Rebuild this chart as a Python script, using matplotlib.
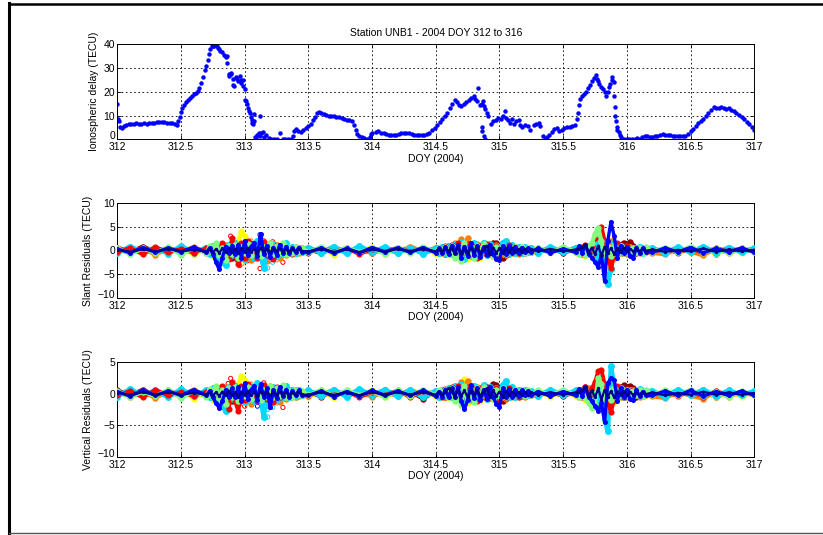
import numpy as np
import matplotlib
matplotlib.use("Agg")
from matplotlib import pyplot as plt
from matplotlib.lines import Line2D

plt.rcParams['font.family'] = ['Liberation Sans', 'DejaVu Sans']
plt.rcParams['font.size'] = 7.5

# ionospheric delay (TECU) vs day of year
doy_tec = [312.0, 312.005, 312.015, 312.025, 312.035, 312.05, 312.07, 312.09, 312.11, 312.13, 312.15, 312.17,
           312.19, 312.21, 312.23, 312.25, 312.27, 312.29, 312.31, 312.33, 312.35, 312.37, 312.39, 312.41,
           312.43, 312.45, 312.465, 312.48, 312.49, 312.5, 312.51, 312.525, 312.54, 312.555, 312.57, 312.585,
           312.6, 312.615, 312.63, 312.645, 312.66, 312.675, 312.69, 312.7, 312.71, 312.72, 312.73, 312.74,
           312.75, 312.76, 312.77, 312.78, 312.79, 312.8, 312.81, 312.82, 312.835, 312.85, 312.86, 312.865,
           312.875, 312.88, 312.89, 312.895, 312.905, 312.91, 312.92, 312.93, 312.94, 312.95, 312.96, 312.97,
           312.975, 312.985, 312.99, 313.0, 313.0, 313.01, 313.02, 313.03, 313.035, 313.045, 313.05, 313.055,
           313.06, 313.065, 313.07, 313.075, 313.12, 313.08, 313.09, 313.1, 313.11, 313.12, 313.13, 313.14,
           313.15, 313.17, 313.19, 313.21, 313.23, 313.25, 313.28, 313.3, 313.32, 313.34, 313.36, 313.38,
           313.39, 313.405, 313.42, 313.44, 313.46, 313.48, 313.5, 313.52, 313.54, 313.555, 313.57, 313.585,
           313.6, 313.62, 313.64, 313.66, 313.68, 313.7, 313.72, 313.74, 313.76, 313.78, 313.8, 313.82,
           313.84, 313.855, 313.87, 313.885, 313.9, 313.92, 313.94, 313.96, 313.98, 313.99, 314.0, 314.03,
           314.05, 314.07, 314.09, 314.11, 314.13, 314.15, 314.17, 314.19, 314.21, 314.23, 314.25, 314.27,
           314.29, 314.31, 314.33, 314.35, 314.37, 314.39, 314.41, 314.43, 314.45, 314.47, 314.49, 314.51,
           314.53, 314.55, 314.57, 314.59, 314.61, 314.63, 314.65, 314.665, 314.68, 314.7, 314.72, 314.74,
           314.76, 314.78, 314.8, 314.81, 314.82, 314.835, 314.85, 314.86, 314.87, 314.88, 314.89, 314.9,
           314.91, 314.86, 314.865, 314.875, 314.885, 314.93, 314.95, 314.97, 314.99, 315.01, 315.03, 315.045,
           315.055, 315.07, 315.085, 315.1, 315.115, 315.13, 315.15, 315.165, 315.18, 315.2, 315.22, 315.24,
           315.27, 315.29, 315.31, 315.32, 315.345, 315.36, 315.375, 315.39, 315.41, 315.43, 315.45, 315.47,
           315.49, 315.51, 315.53, 315.55, 315.57, 315.59, 315.605, 315.615, 315.625, 315.635, 315.65, 315.665,
           315.68, 315.695, 315.71, 315.725, 315.74, 315.755, 315.765, 315.775, 315.785, 315.8, 315.815, 315.83,
           315.84, 315.85, 315.86, 315.87, 315.88, 315.885, 315.895, 315.9, 315.905, 315.91, 315.915, 315.92,
           315.925, 315.935, 315.945, 315.955, 315.965, 315.98, 316.0, 316.02, 316.04, 316.06, 316.08, 316.1,
           316.12, 316.14, 316.16, 316.18, 316.2, 316.22, 316.24, 316.26, 316.28, 316.3, 316.32, 316.34,
           316.36, 316.38, 316.4, 316.42, 316.44, 316.46, 316.48, 316.5, 316.52, 316.54, 316.56, 316.58,
           316.6, 316.62, 316.64, 316.66, 316.68, 316.7, 316.72, 316.74, 316.76, 316.78, 316.8, 316.82,
           316.84, 316.86, 316.88, 316.9, 316.92, 316.94, 316.96, 316.98, 317.0]
tec = [15.0, 8.4, 7.5, 5.0, 4.6, 5.5, 6.0, 6.3, 6.5, 6.4, 6.7, 6.6,
       6.5, 6.7, 6.6, 6.9, 6.8, 7.0, 7.2, 7.3, 7.1, 7.2, 7.0, 6.9,
       6.8, 6.5, 6.0, 7.5, 9.5, 11.5, 13.0, 14.5, 15.6, 16.5, 17.3, 18.2,
       19.0, 19.6, 20.3, 21.5, 23.5, 26.0, 29.0, 31.0, 33.5, 36.0, 38.0, 39.0,
       39.3, 39.0, 39.6, 39.2, 38.3, 38.0, 37.2, 36.5, 35.5, 34.5, 35.0, 32.2,
       27.5, 26.5, 28.0, 27.3, 25.5, 23.0, 22.3, 26.0, 25.3, 24.5, 26.5, 25.0,
       23.5, 24.8, 22.5, 21.2, 16.5, 16.0, 15.0, 13.2, 12.0, 11.0, 9.5, 8.0,
       7.0, 6.5, 7.5, 10.5, 9.8, 1.0, 0.5, 2.0, 2.8, 1.5, 2.5, 3.0,
       1.0, 2.0, 0.5, 0.2, 0.0, 0.3, 2.8, 0.0, 0.0, 0.1, 0.0, 1.5,
       3.5, 4.2, 3.5, 3.0, 4.0, 4.8, 5.5, 6.5, 8.0, 9.5, 11.0, 11.5,
       11.0, 10.6, 10.3, 10.0, 9.6, 9.8, 9.3, 9.2, 8.9, 8.6, 8.3, 8.0,
       7.5, 6.0, 4.0, 2.3, 1.3, 1.0, 0.5, 0.3, 1.0, 2.2, 2.8, 3.0,
       3.3, 2.8, 2.5, 2.3, 2.0, 1.8, 1.8, 2.0, 2.3, 2.5, 2.7, 2.8,
       2.5, 2.2, 2.0, 1.9, 1.8, 1.8, 2.0, 2.3, 2.8, 3.8, 4.8, 6.0,
       7.2, 8.5, 9.6, 11.0, 13.0, 15.0, 16.5, 15.5, 14.6, 14.0, 15.0, 15.5,
       16.5, 17.3, 18.0, 17.0, 16.2, 21.4, 14.5, 15.0, 16.0, 14.0, 12.8, 11.0,
       10.0, 5.3, 3.5, 1.5, 0.3, 6.5, 7.5, 8.3, 9.0, 8.5, 10.0, 11.8,
       9.0, 8.0, 7.0, 8.5, 6.5, 7.5, 8.3, 6.0, 5.0, 6.0, 5.5, 4.0,
       6.0, 6.5, 7.0, 5.5, 1.5, 0.2, 0.8, 1.8, 3.0, 4.2, 4.8, 3.5,
       4.0, 4.6, 5.0, 5.2, 5.6, 6.0, 8.5, 11.0, 14.5, 17.0, 18.0, 19.2,
       20.0, 21.5, 23.0, 24.5, 25.8, 27.0, 25.5, 24.3, 23.3, 22.0, 21.2, 19.8,
       18.0, 20.0, 22.0, 23.3, 25.0, 26.0, 24.0, 18.0, 13.5, 10.0, 7.5, 5.0,
       4.0, 3.0, 2.0, 1.0, 0.0, 0.0, 0.0, 0.2, 0.1, 0.3, 0.5, 0.3,
       1.0, 1.5, 1.6, 1.0, 0.8, 1.2, 1.6, 2.0, 2.2, 2.0, 1.8, 1.7,
       1.5, 1.4, 1.3, 1.3, 1.2, 1.5, 2.3, 3.3, 4.3, 5.5, 6.8, 7.8,
       8.7, 10.0, 11.2, 12.5, 13.7, 13.2, 13.0, 13.4, 13.1, 12.9, 13.0, 12.4,
       11.8, 11.0, 10.2, 9.5, 8.5, 7.4, 6.3, 5.2, 4.0]

# residual epochs: coarse in quiet hours, fine during the disturbed periods
doy_res = np.round(np.concatenate([
    np.linspace(312.0, 312.7, 8),
    np.linspace(312.725, 313.45, 30),
    np.linspace(313.5, 314.5, 11),
    np.linspace(314.525, 315.25, 30),
    np.linspace(315.3, 315.6, 4),
    np.linspace(315.625, 316.15, 22),
    np.linspace(316.2, 317.0, 9),
]), 3)

# drawing order, bottom to top
res_colors = [(0.55, 0, 0), (1, 1, 0), (1, 0.5, 0), (0, 0.85, 1),
              (1, 0, 0), (0.5, 1, 0.5), (0, 0, 1), (0, 0, 0.55)]
res_widths = [3.0, 3.0, 3.2, 3.4, 2.8, 3.0, 2.4, 1.6]
res_msizes = [4.6, 4.4, 4.6, 5.0, 4.4, 4.6, 3.6, 2.4]

# slant residuals (TECU), one row per colour group
slant_darkred = [0.6, -0.4, 0.8, -0.3, 0.5, -0.6, 0.4, -0.3,
                 0.4, -0.8, 0.6, 1.0, -1.2, 0.8, -0.5, -1.5, 1.0, -2.0, 0.5, -1.2, 0.8, 1.3, -0.6,
                 0.9, -1.0, 0.6, -0.8, 1.0, 0.5, -0.7, 0.8, -0.4, 0.6, -0.5, 0.3, -0.6, 0.4, -0.3,
                 0.3, -0.6, 0.5, -0.4, 0.3, -0.5, 0.6, -0.3, 0.4, -0.6, 0.5,
                 -0.4, 0.5, -0.7, 0.6, -0.5, 0.9, -0.8, 0.5, -1.0, 0.6, 1.0, -0.8, 0.5, -0.6, 0.8,
                 -0.7, 1.2, 1.6, 1.5, 0.8, -1.5, 0.5, -0.6, 0.9, -0.5, 0.6, -0.4, 0.5, -0.3, 0.4,
                 -0.3, 0.4, -0.5, 0.3,
                 -0.5, 0.6, -0.8, 0.5, -0.6, 1.2, -1.5, 2.0, -3.0, -2.0, 1.5, -1.0, 0.8, 1.2, 1.6,
                 1.4, 1.8, 1.0, -0.6, 0.5, -0.3, 0.4,
                 0.3, -0.5, 0.4, -0.3, 0.6, -0.7, 0.4, -0.3, 0.2]
slant_red = [-0.3, 0.5, -0.8, 0.7, -0.4, 0.3, -0.5, 0.4,
             0.8, -0.5, 1.2, -0.8, 1.5, 0.3, -1.8, 2.5, -1.0, -2.8, 1.5, -1.5, 2.0, -0.8, 1.0,
             -1.5, 0.8, 1.7, -1.0, 0.6, -1.8, 1.2, -0.6, 1.0, -0.5, 0.4, -0.8, 0.6, -0.3, 0.4,
             -0.5, 0.6, -0.3, 0.5, -0.8, 0.3, -0.4, 0.6, -0.3, 0.5, -0.4,
             0.5, -0.6, 0.9, -0.5, 1.2, -0.8, 1.5, -1.0, 0.7, 1.4, -1.2, 0.8, -1.5, 1.0, -0.6,
             1.3, -0.8, 0.5, 1.0, -1.2, 0.6, -0.9, 1.1, -0.5, 0.8, -0.6, 0.4, -0.5, 0.3, -0.4,
             0.4, -0.3, 0.5, -0.4,
             0.6, -0.8, 1.2, -0.5, 1.0, 2.5, 4.5, 5.0, 2.0, -1.5, -3.8, -1.0, 1.5, 0.8, -0.6,
             0.9, -0.5, 0.6, -0.4, 0.5, -0.3, 0.4,
             -0.4, 0.3, -0.5, 0.4, -0.6, 0.5, -0.3, 0.4, -0.2]
slant_orange = [0.4, -0.6, 0.5, -0.9, 0.6, -0.4, 0.7, -0.5,
                -0.6, 0.9, -1.0, 0.7, -0.8, 1.2, -0.5, 0.8, 1.5, -1.2, 0.9, -0.8, 1.6, -2.0, 0.7,
                1.8, -1.5, 1.0, -2.3, 1.5, -0.9, 1.0, -1.6, 0.8, -1.0, 0.6, -0.4, 0.7, -0.5, 0.3,
                0.5, -0.4, 0.7, -0.5, 0.4, -0.6, 0.3, -0.5, 0.8, -0.3, 0.5,
                -0.5, 0.4, -0.8, 1.0, -0.6, 1.5, -0.8, 2.3, -1.2, 2.5, 0.8, -1.0, 1.3, -0.7, 1.0,
                -0.9, 0.6, -0.8, 1.1, -0.5, 0.9, -1.0, 0.7, -0.6, 0.5, -0.7, 0.4, -0.6, 0.5, -0.3,
                -0.5, 0.6, -0.4, 0.5,
                -0.6, 0.8, -0.5, 1.0, -1.2, 0.7, -0.8, 1.5, -2.5, 1.0, 2.0, -1.5, 0.8, -0.6, 0.5,
                -0.8, 0.6, -0.4, 0.5, -0.6, 0.4, -0.3,
                -0.5, -0.8, 0.4, -0.3, -1.0, 0.5, -0.6, 0.4, -0.3]
slant_yellow = [-0.5, 0.3, -0.7, 0.4, -0.6, 0.5, -0.9, 0.3,
                0.6, -1.2, 0.8, -1.5, 1.0, -0.8, 1.3, -0.6, 1.0, 2.0, 4.0, 3.0, -1.0, 0.8, -1.3,
                1.0, -0.7, 1.2, -0.9, 0.6, 1.3, -1.0, 0.8, -0.5, 1.1, -0.6, 0.4, -0.7, 0.5, -0.4,
                -0.6, 0.4, -0.9, 0.6, -0.5, 0.8, -0.7, 0.4, -0.6, 0.5, -0.8,
                0.4, -0.6, 0.5, -0.9, 0.7, -1.2, 1.0, -1.6, 0.8, -1.8, 1.4, -0.8, 1.2, -1.5, 0.6,
                -1.0, 0.9, -1.3, 0.5, 0.8, -0.7, 1.0, -0.5, 0.6, -0.8, 0.4, -0.5, 0.6, -0.3, 0.5,
                0.3, -0.6, 0.4, -0.5,
                0.5, -0.8, -1.2, 0.6, -1.0, 0.8, -1.5, 1.5, -5.0, -3.0, 2.0, -1.8, 1.0, -0.8, 0.6,
                -0.5, 0.7, -0.4, 0.5, -0.3, 0.6, -0.4,
                0.5, -0.4, 0.6, -0.5, 0.4, -0.8, 0.5, -0.6, 0.4]
slant_green = [0.5, -0.8, 0.4, -0.5, 0.7, -0.9, 0.5, -0.6,
               0.9, -0.6, 1.5, -1.0, 0.6, -2.0, 1.0, -0.7, 1.2, -1.5, 0.8, -0.5, 1.4, -1.0, 0.6,
               1.0, -1.2, 0.8, -0.6, 1.5, -0.8, 1.0, -0.5, 1.6, -0.7, 0.5, -0.6, 0.8, -0.4, 0.5,
               -0.4, 0.7, -0.5, 0.6, -0.4, 0.5, -0.7, 0.6, -0.5, 0.7, -0.4,
               0.6, -0.5, 0.8, -0.7, 1.0, -1.5, 0.9, -2.2, 1.5, -1.2, 0.8, -1.6, 1.0, -0.8, 1.3,
               -0.6, 0.9, -1.1, 0.7, -0.5, 1.0, -0.8, 0.5, -0.6, 0.7, -0.4, 0.8, -0.5, 0.6, -0.4,
               0.6, -0.4, 0.7, -0.3,
               -0.7, 0.5, -0.9, 0.8, 1.5, 3.5, 4.8, 2.0, -1.0, 0.8, -1.2, 1.0, -0.7, 0.9, -0.5,
               0.6, -0.8, 0.5, -0.4, 0.6, -0.5, 0.7,
               -0.3, 0.6, -0.4, 0.8, -0.5, 0.4, -0.6, 0.5, -0.3]
slant_cyan = [-0.6, 0.8, -0.4, 0.6, -0.7, 0.9, -0.5, 0.6,
              -0.8, 1.0, -1.5, 0.8, -2.5, -3.0, 1.2, -1.0, 1.5, -0.8, 1.0, -1.8, 0.7, 1.2, -1.5,
              2.0, -1.0, -3.7, 1.0, -0.9, 1.3, -1.2, 0.7, -0.8, 1.5, -0.6, 0.8, -0.5, 0.6, -0.4,
              0.6, -0.5, 0.8, -0.6, 0.9, -0.4, 0.7, -0.5, 0.6, -0.7, 0.5,
              -0.6, 0.8, -0.5, 1.0, -0.7, 1.4, -1.0, 1.8, -1.8, 1.2, -0.9, 1.5, -1.2, 0.8, 1.6,
              -1.0, 1.4, -0.8, 1.0, -0.6, 1.6, 2.0, -0.8, 1.2, -0.6, 0.8, -0.5, 0.7, -0.4, 0.5,
              -0.5, 0.7, -0.4, 0.6,
              0.6, -0.5, 0.8, -0.7, 0.9, 1.5, -2.0, 3.5, -5.0, -7.0, -4.0, 1.5, -0.8, 1.0, -0.6,
              0.8, -0.5, 0.6, -0.4, 0.8, -0.5, 0.4,
              0.5, -0.6, 0.7, -0.4, 0.8, -0.5, 0.6, -0.4, 0.5]
slant_blue = [0.3, -0.5, 0.6, -0.4, 0.5, -0.3, 0.7, -0.4,
              0.5, -0.7, -2.5, -4.0, -1.5, 0.8, -0.6, 1.0, -0.8, 1.2, -1.5, 2.0, -1.0, 0.8, 1.5,
              -1.2, 3.5, -0.8, 1.0, -1.3, 0.6, -0.9, 1.2, -0.5, 0.8, -0.6, 0.5, -0.4, 0.6, -0.3,
              -0.4, 0.5, -0.6, 0.4, -0.5, 0.6, -0.3, 0.5, -0.4, 0.6, -0.5,
              0.4, -0.6, 0.7, -0.8, 1.0, -0.6, 1.2, -1.5, 0.8, -1.2, 1.6, -0.9, 1.0, -1.4, 0.7,
              -1.0, 1.2, -0.8, -1.8, -2.0, 1.0, -0.7, 0.9, -0.6, 0.8, -0.5, 0.6, -0.4, 0.5, -0.3,
              0.4, -0.5, 0.3, -0.4,
              0.9, -0.5, 1.2, -0.8, -1.5, -2.5, -3.5, -1.0, -6.5, 2.0, 6.0, 3.0, -1.5, 1.0, -0.6,
              0.8, -1.2, -1.5, 0.6, -0.5, 0.4, -0.3,
              -0.4, 0.5, -0.3, 0.6, -0.5, 0.4, -0.3, 0.5, -0.4]
slant_navy = [0.1, -0.3, 0.2, -0.2, 0.3, -0.2, 0.1, -0.3,
              0.2, -0.4, 0.3, -0.5, 0.4, -0.3, 0.5, -0.4, 0.3, -0.6, 0.4, -0.3, 0.5, -0.4, 0.3,
              -0.5, 0.4, -0.3, 0.2, -0.4, 0.3, -0.2, 0.4, -0.3, 0.2, -0.3, 0.2, -0.2, 0.3, -0.2,
              -0.2, 0.3, -0.3, 0.2, -0.4, 0.2, -0.3, 0.3, -0.2, 0.3, -0.2,
              0.2, -0.3, 0.4, -0.2, 0.5, -0.6, 0.8, -0.5, 0.6, -0.7, 0.5, -0.4, 0.6, -0.5, 0.3,
              1.0, -0.8, 0.6, -0.5, 0.4, -0.6, 0.5, -0.3, 0.4, -0.3, 0.2, -0.3, 0.2, -0.2, 0.3,
              -0.2, 0.3, -0.2, 0.2,
              0.3, 0.8, 1.2, -0.5, 0.6, -0.8, 1.0, -1.2, 0.8, -0.6, 0.5, -0.8, 0.4, -0.3, 0.5,
              -0.2, 0.3, -0.2, 0.2, -0.3, 0.2, -0.1,
              0.2, -0.3, 0.1, -0.2, 0.4, -0.3, 0.2, -0.2, 0.1]

# vertical residuals (TECU)
vert_darkred = [0.5, -0.3, 0.6, -0.3, 0.4, -0.5, 0.3, -0.3,
                0.3, -0.6, 0.5, 0.8, -1.0, 0.6, -0.4, -1.2, 0.8, -1.6, 0.4, -1.0, 0.6, 1.0, -0.5,
                0.7, -0.8, 0.5, -0.6, 0.8, 0.4, -0.6, 0.6, -0.3, 0.5, -0.4, 0.3, -0.5, 0.3, -0.3,
                0.3, -0.5, 0.4, -0.3, 0.3, -0.4, 0.5, -0.3, 0.3, -0.8, 0.4,
                -0.3, 0.4, -0.6, 0.5, -0.4, 0.7, -0.6, 0.4, -0.8, 0.5, 0.8, -0.6, 0.4, -0.5, 0.6,
                -0.6, 1.0, 1.5, 1.3, 0.6, -1.2, 0.4, -0.5, 0.7, -0.4, 0.5, -0.3, 0.4, -0.3, 0.3,
                -0.3, 0.3, -0.4, 0.3,
                -0.4, 0.5, 1.0, 0.4, -0.5, 1.0, -1.2, 1.6, -2.5, -1.6, 1.2, -0.8, 0.6, 1.0, 1.3,
                1.1, 1.2, 0.8, -0.5, 0.4, -0.3, 0.3,
                0.3, -0.4, 0.3, -0.3, 0.5, -0.6, 0.3, -0.3, 0.2]
vert_red = [-0.3, 0.4, -0.6, 0.6, -0.3, 0.2, -0.4, 0.3,
            0.6, -0.4, 0.9, -0.6, 1.2, -1.0, -2.5, 1.8, -1.2, -2.8, 1.2, -1.0, 1.5, -0.6, 0.8,
            -1.2, 0.6, 1.3, -0.8, 0.5, -1.4, 1.0, -0.5, 0.8, -0.4, 0.3, -0.6, 0.5, -0.3, 0.3,
            -0.4, 0.5, -0.3, 0.4, -0.6, 0.3, -0.3, 0.5, -0.6, 0.4, -0.3,
            0.4, -0.5, 0.7, -0.4, 1.0, -0.6, 1.2, -0.8, 0.6, 1.1, -1.0, 0.7, -1.2, 0.8, -0.5,
            1.0, -0.7, 0.4, 0.8, -1.0, 0.5, -0.7, 0.9, -0.4, 0.6, -0.5, 0.3, -0.4, 0.3, -0.3,
            0.3, -0.3, 0.4, -0.3,
            0.5, -0.6, 1.0, -0.4, 0.8, 1.8, 3.5, 3.8, 1.5, -1.2, -3.0, -0.8, 1.2, 0.6, -0.5,
            0.7, -0.4, 0.5, -0.3, 0.4, -0.3, 0.3,
            -0.3, 0.3, -0.4, 0.3, -0.5, 0.4, -0.3, 0.3, -0.2]
vert_orange = [0.3, -0.5, 0.4, -0.7, 0.5, -0.3, 0.6, -0.4,
               -0.5, 0.7, -0.8, 0.6, -0.6, 1.0, -0.4, 0.6, 1.2, -1.0, 0.7, -0.6, 1.3, -1.6, 0.6,
               1.5, -1.2, 0.8, -1.8, 1.2, -0.7, 0.8, -1.3, 0.6, -0.8, 0.5, -0.3, 0.6, -0.4, 0.3,
               0.4, -0.3, 0.6, -0.4, 0.3, -0.5, 0.3, -0.4, 0.6, -0.3, 0.4,
               -0.4, 0.3, -0.6, 0.8, -0.5, 1.2, -0.6, 1.8, -1.0, 2.0, 0.6, -0.8, 1.0, -0.6, 0.8,
               -0.7, 0.5, -0.6, 0.9, -0.4, 0.7, -0.8, 0.6, -0.5, 0.4, -0.6, 0.3, -0.5, 0.4, -0.3,
               -0.4, 0.5, -0.3, 0.4,
               -0.5, 0.6, -0.4, 0.8, -1.0, 0.6, -0.6, 1.2, -2.0, 0.8, 1.6, -1.2, 0.6, -0.5, 0.4,
               -0.6, 0.5, -0.3, 0.4, -0.5, 0.3, -0.3,
               -0.4, -0.7, 0.3, -0.3, -0.8, 0.4, -0.5, 0.3, -0.3]
vert_yellow = [-0.4, 0.3, -0.6, 0.3, -0.5, 0.4, -0.8, 0.3,
               0.5, -1.0, 0.6, -1.2, 0.8, -0.6, 1.0, -0.5, 0.8, 1.5, 2.8, 2.2, -0.8, 0.6, -1.0,
               0.8, -0.6, 1.0, -0.7, 0.5, 1.0, -0.8, 0.6, -0.4, 0.9, -0.5, 0.3, -0.6, 0.4, -0.3,
               -0.5, 0.3, -0.7, 0.5, -0.4, 0.6, -0.6, 0.3, -0.5, 0.4, -0.6,
               0.3, -0.5, 0.4, -0.7, 0.6, -1.0, 0.8, -1.3, 2.3, -1.5, 1.2, -0.6, 1.0, -1.2, 0.5,
               -0.8, 0.7, -1.0, 0.4, 0.6, -0.6, 0.8, -0.4, 0.5, -0.6, 0.3, -0.4, 0.5, -0.3, 0.4,
               0.3, -0.5, 0.3, -0.4,
               0.4, -0.6, -1.0, 0.5, -0.8, 0.6, -1.2, 1.2, -4.5, -2.5, 1.6, -1.4, 0.8, -0.6, 0.5,
               -0.4, 0.6, -0.3, 0.4, -0.3, 0.5, -0.3,
               0.4, -0.3, 0.5, -0.4, 0.3, -0.6, 0.4, -0.5, 0.3]
vert_green = [0.4, -0.6, 0.3, -0.4, 0.6, -0.7, 0.4, -0.5,
              0.7, -0.5, 1.2, -0.8, 0.5, -1.6, 0.8, -0.6, 1.0, -1.2, 0.6, -0.4, 1.1, -0.8, 0.5,
              0.8, -1.0, 0.6, -0.5, 1.2, -0.6, 0.8, -0.4, 1.3, -0.6, 0.4, -0.5, 0.6, -0.3, 0.4,
              -0.3, 0.6, -0.4, 0.5, -0.3, 0.4, -0.6, 0.5, -0.4, 0.6, -0.3,
              0.5, -0.4, 0.6, -0.6, 0.8, -1.2, 0.7, -1.8, 1.2, -1.0, 0.6, -1.3, 0.8, -0.6, 1.0,
              -0.5, 0.7, -0.9, 0.6, -0.4, 0.8, -0.6, 0.4, -0.5, 0.6, -0.3, 0.6, -0.4, 0.5, -0.3,
              0.5, -0.3, 0.6, -0.3,
              -0.6, 0.4, -0.7, -1.5, -2.3, -1.8, 2.5, 1.5, -0.8, 0.6, -1.0, 0.8, -0.6, 0.7, -0.4,
              0.5, -0.6, 0.4, -0.3, 0.5, -0.4, 0.6,
              -0.3, 0.5, -0.3, 0.6, -0.4, 0.3, -0.5, 0.4, -0.3]
vert_cyan = [-0.5, 0.7, -0.3, 0.5, -0.6, 0.7, -0.4, 0.5,
             -0.6, 0.8, -1.2, 0.6, -2.0, -2.8, 1.0, -0.8, 1.2, -0.6, 0.8, -1.4, 0.6, 1.0, -1.2,
             1.6, -0.8, -3.7, 0.8, -0.7, 1.0, -1.0, 0.6, -0.6, 1.2, -0.5, 0.6, -0.4, 0.5, -0.3,
             0.5, -0.4, 0.6, -0.5, 0.7, -0.3, 0.6, -0.4, 0.5, -0.6, 0.4,
             -0.5, 0.6, -0.4, 0.8, -0.6, 1.2, -0.8, 1.5, -1.5, 1.0, -0.7, 1.2, -1.0, 0.6, 1.3,
             -0.8, 1.1, -0.6, 0.8, -0.5, 1.3, 2.0, -0.6, 1.0, -0.5, 0.6, -0.4, 0.6, -0.3, 0.4,
             -0.4, 0.6, -0.3, 0.5,
             0.5, -0.4, 0.6, -0.6, 0.7, 1.2, -1.5, 2.5, -4.0, -6.0, 4.3, 1.2, -0.6, 0.8, -0.5,
             0.6, -0.4, 0.5, -0.3, 0.7, -0.4, 0.3,
             0.4, -0.5, 0.6, -0.3, 0.6, -0.4, 0.5, -0.3, 0.4]
vert_blue = [0.3, -0.4, 0.5, -0.3, 0.4, -0.3, 0.6, -0.3,
             0.4, -0.6, -1.5, -2.3, -1.2, 0.6, -0.5, 0.8, -0.6, 1.0, -1.2, 1.6, -0.8, 0.6, 1.2,
             -1.0, 1.5, -0.6, 0.8, -2.2, 0.5, -0.7, 1.0, -0.4, 0.6, -0.5, 0.4, -0.3, 0.5, -0.3,
             -0.3, 0.4, -0.5, 0.3, -0.4, 0.5, -0.3, 0.4, -0.3, 0.5, -0.4,
             0.3, -0.5, 0.6, -0.6, 0.8, -0.5, 1.0, -1.2, -2.5, -1.0, 1.3, -0.7, 0.8, -1.1, 0.6,
             -0.8, 1.0, -0.6, -1.6, -2.2, 0.8, -0.6, 0.7, -0.5, 0.6, -0.4, 0.5, -0.3, 0.4, -0.3,
             0.3, -0.4, 0.3, -0.3,
             0.7, -0.4, 1.0, -0.6, -1.2, -2.0, -2.8, -1.5, -4.5, 1.6, 2.5, 2.2, -1.2, 0.8, -0.5,
             0.6, -0.9, -1.0, 0.5, -0.4, 0.3, -0.3,
             -0.3, 0.4, -0.3, 0.5, -0.4, 0.3, -0.3, 0.4, -0.3]
vert_navy = [0.1, -0.2, 0.2, -0.2, 0.2, -0.2, 0.1, -0.2,
             0.2, -0.3, 0.2, -0.4, 0.3, -0.3, 0.4, -0.3, 0.2, -0.5, 0.3, -0.2, 0.4, -0.3, 0.2,
             -0.4, 0.3, -0.2, 0.2, -0.3, 0.2, -0.2, 0.3, -0.2, 0.2, -0.2, 0.2, -0.2, 0.2, -0.2,
             -0.2, 0.2, -0.2, 0.2, -0.3, 0.2, -0.2, 0.2, -0.2, 0.2, -0.2,
             0.2, -0.2, 0.3, 0.8, 0.5, -0.5, 0.6, -0.4, 0.5, -0.6, 0.4, -0.3, 0.5, -0.4, 0.3,
             0.8, -0.6, 0.5, -0.4, 0.3, -0.5, 0.4, -0.2, 0.3, -0.2, 0.2, -0.2, 0.2, -0.2, 0.2,
             -0.2, 0.2, -0.2, 0.2,
             0.2, 0.6, 1.0, -0.4, 0.5, -0.6, 0.8, -1.0, 0.6, -0.5, 0.4, -0.6, 0.3, -0.2, 0.4,
             -0.2, 0.2, -0.2, 0.2, -0.2, 0.2, -0.1,
             0.2, -0.3, 0.1, -0.2, 0.3, -0.2, 0.2, -0.2, 0.1]

slant_groups = [slant_darkred, slant_yellow, slant_orange, slant_cyan,
                slant_red, slant_green, slant_blue, slant_navy]
vert_groups = [vert_darkred, vert_yellow, vert_orange, vert_cyan,
               vert_red, vert_green, vert_blue, vert_navy]

# isolated outliers drawn as open circles
slant_open_t = [312.89, 312.96, 313.02, 313.15, 313.12, 313.22, 313.3,
                313.12, 313.125, 313.05, 313.2, 313.18, 313.22, 313.17, 312.98, 313.25, 313.05]
slant_open_v = [3.0, -3.2, -2.2, 2.0, -3.8, 1.8, -2.5,
                3.3, 2.8, 1.5, -2.0, -3.7, -2.5, -1.5, -2.8, -2.0, 2.0]
slant_open_c = ['r', 'r', 'r', 'r', 'r', 'r', 'r',
                'b', 'b', 'b', 'b', (0, 0.85, 1), (0, 0.85, 1), (0, 0.85, 1),
                (1, 0.5, 0), (1, 0.5, 0), (1, 0.5, 0)]
vert_open_t = [312.89, 312.87, 313.0, 313.15, 313.3, 313.12, 313.1, 313.2,
               313.18, 313.18, 313.22, 313.25, 313.05]
vert_open_v = [2.4, 1.6, -2.0, 1.7, -2.2, 1.3, -2.0, -2.2, -3.7, -2.5, -2.2, -1.5, 1.5]
vert_open_c = ['r', 'r', 'r', 'r', 'r', 'b', 'b', 'b',
               (0, 0.85, 1), (0, 0.85, 1), (0, 0.85, 1), (1, 0.5, 0), (1, 0.5, 0)]

xticks = [312, 312.5, 313, 313.5, 314, 314.5, 315, 315.5, 316, 316.5, 317]
xticklabels = ['312', '312.5', '313', '313.5', '314', '314.5', '315', '315.5', '316', '316.5', '317']

fig = plt.figure(figsize=(8.23, 5.35), dpi=100)

# window frame
fig.add_artist(Line2D([0.0115, 0.0115], [0.0, 0.995], color='black', lw=2.2))
fig.add_artist(Line2D([0.0115, 1.0], [0.993, 0.993], color='black', lw=1.8))
fig.add_artist(Line2D([0.0115, 1.0], [0.004, 0.004], color='#555555', lw=1.0))


def style_axes(ax, ylim, yticks, ylabel):
    ax.set_xlim(312, 317)
    ax.set_ylim(*ylim)
    ax.set_xticks(xticks)
    ax.set_xticklabels(xticklabels)
    ax.set_yticks(yticks)
    ax.tick_params(direction='in', length=3, width=0.6, top=True, right=True)
    ax.tick_params(axis='x', pad=2.2)
    ax.tick_params(axis='y', pad=1.5)
    # lowest y label sits just clear of the first x label
    ax.get_yticklabels()[0].set_verticalalignment('baseline')
    ax.grid(True, color='black', linestyle=(0, (2, 3)), linewidth=0.6)
    for s in ax.spines.values():
        s.set_linewidth(0.7)
    ax.set_xlabel('DOY (2004)', labelpad=1)
    ax.set_ylabel(ylabel, labelpad=3)


ax1 = fig.add_axes([0.1425, 0.7396, 0.774, 0.178])
ax1.plot(doy_tec, tec, 'o', color=(0, 0, 1), ms=3.2, mew=0)
style_axes(ax1, (0, 40), [0, 10, 20, 30, 40], 'Ionospheric delay (TECU)')
ax1.set_title('Station UNB1 - 2004 DOY 312 to 316', fontsize=7.5, pad=6)

ax2 = fig.add_axes([0.1425, 0.443, 0.774, 0.178])
ax3 = fig.add_axes([0.1425, 0.1464, 0.774, 0.177])

for ax, groups, ot, ov, oc in [(ax2, slant_groups, slant_open_t, slant_open_v, slant_open_c),
                               (ax3, vert_groups, vert_open_t, vert_open_v, vert_open_c)]:
    ax.scatter(ot, ov, s=9, facecolors='none', edgecolors=oc, linewidths=0.7, zorder=2)
    for col, vals, lw, ms in zip(res_colors, groups, res_widths, res_msizes):
        ax.plot(doy_res, vals, '-o', color=col, lw=lw, ms=ms, mew=0, zorder=3)

style_axes(ax2, (-10, 10), [-10, -5, 0, 5, 10], 'Slant Residuals (TECU)')
style_axes(ax3, (-10, 5), [-10, -5, 0, 5], 'Vertical Residuals (TECU)')

fig.savefig('out.png', dpi=100)
